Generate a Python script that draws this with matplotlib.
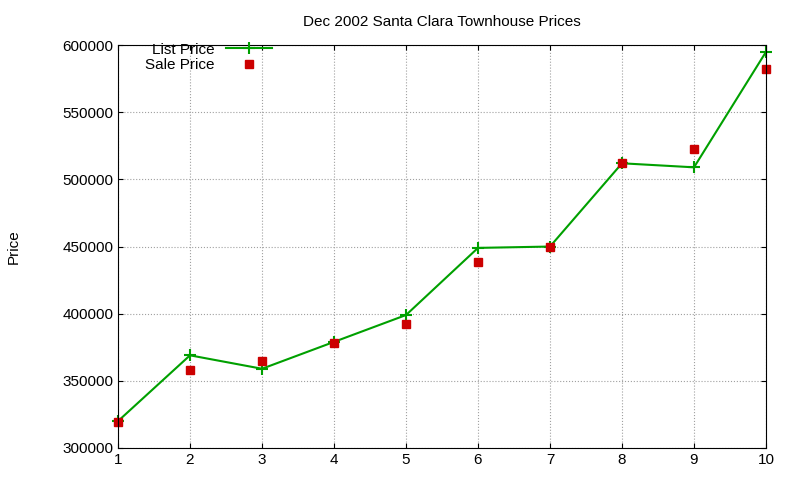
import matplotlib
matplotlib.use("Agg")
import matplotlib.pyplot as plt

x = [1, 2, 3, 4, 5, 6, 7, 8, 9, 10]
list_price = [320000, 369000, 359000, 379000, 399000, 449000, 450000, 512000, 509000, 595000]
sale_price = [319000, 358000, 365000, 378000, 392000, 438500, 450000, 512000, 522500, 582000]

plt.rcParams['font.family'] = ['Liberation Sans', 'DejaVu Sans']
fig = plt.figure(figsize=(8, 4.8), dpi=100)
ax = fig.add_axes([0.1475, 0.0667, 0.81, 0.8393])
ax.plot(x, list_price, color='#00a000', lw=1.5, marker='+', ms=8, mew=1.5, label='List Price', clip_on=False)
ax.plot(x, sale_price, ls='none', color='#cc0000', marker='s', ms=6, label='Sale Price', clip_on=False)
ax.set_xlim(1, 10)
ax.set_ylim(300000, 600000)
ax.set_xticks(x)
ax.set_yticks(range(300000, 600001, 50000))
ax.grid(True, color='#a0a0a0', ls=':', lw=0.8)
ax.tick_params(direction='in', labelsize=11, top=True, right=True)
ax.set_title('Dec 2002 Santa Clara Townhouse Prices', fontsize=11, pad=14)
ax.set_ylabel('Price', fontsize=11, labelpad=30)
leg = ax.legend(loc='upper left', bbox_to_anchor=(0.02, 1.04), frameon=False, fontsize=11,
                markerfirst=False, handlelength=3, labelspacing=0.1)
fig.savefig('out.png')
